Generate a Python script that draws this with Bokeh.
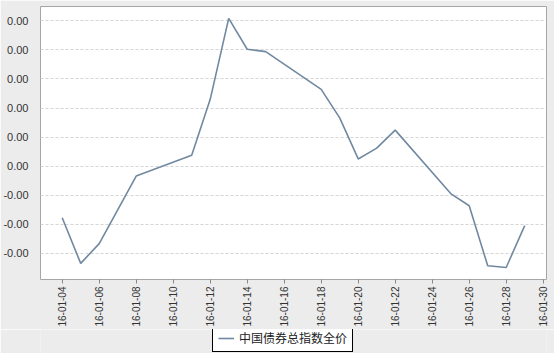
import math
import datetime as dt
from bokeh.plotting import figure
from bokeh.layouts import column
from bokeh.models import (Range1d, FixedTicker, DaysTicker, DatetimeTickFormatter,
                          Legend, LegendItem)
from bokeh.embed import file_html
from bokeh.resources import INLINE

# ---- data ----
dates = ["2016-01-04", "2016-01-05", "2016-01-06", "2016-01-07", "2016-01-08",
         "2016-01-11", "2016-01-12", "2016-01-13", "2016-01-14", "2016-01-15",
         "2016-01-18", "2016-01-19", "2016-01-20", "2016-01-21", "2016-01-22",
         "2016-01-25", "2016-01-26", "2016-01-27", "2016-01-28", "2016-01-29"]
values = [-0.000885, -0.00167, -0.00133, -0.00075, -0.00017,
          0.00019, 0.00115, 0.00254, 0.00201, 0.00197,
          0.00132, 0.00083, 0.000125, 0.00031, 0.00062,
          -0.00047, -0.00068, -0.00171, -0.00174, -0.00102]
series_name = "中国债券总指数全价"
y_ticks = [-0.0015, -0.001, -0.0005, 0.0, 0.0005, 0.001, 0.0015, 0.002, 0.0025]
y_tick_labels = ["-0.00", "-0.00", "-0.00", "0.00", "0.00", "0.00", "0.00", "0.00", "0.00"]
x_tick_days = list(range(4, 31, 2))

LINE_COLOR = "#7189a0"
BG = "#ececec"

xs = [dt.datetime.strptime(d, "%Y-%m-%d") for d in dates]

x_start = dt.datetime(2016, 1, 4) - dt.timedelta(days=1.173)
x_end = dt.datetime(2016, 1, 30) + dt.timedelta(days=0.178)

p = figure(width=554, height=329, x_axis_type="datetime",
           output_backend="svg", toolbar_location=None,
           x_range=Range1d(x_start, x_end),
           y_range=Range1d(-0.001947, 0.002745),
           min_border_left=40, min_border_right=8, min_border_top=6,
           min_border_bottom=49)
p.background_fill_color = "white"
p.border_fill_color = BG
p.outline_line_color = "#a6a6a6"
p.outline_line_width = 1

p.line(xs, values, line_color=LINE_COLOR, line_width=1.6)

# axes
xa = p.xaxis[0]
xa.ticker = DaysTicker(days=x_tick_days)
xa.formatter = DatetimeTickFormatter(days="%y-%m-%d", months="%y-%m-%d")
xa.major_label_orientation = math.pi / 2
xa.major_label_text_font = "Liberation Sans"
xa.major_label_text_font_size = "10px"
xa.major_label_text_color = "#333333"
xa.axis_line_color = None
xa.major_tick_line_color = "#888888"
xa.major_tick_out = 4
xa.major_tick_in = 0
xa.minor_tick_line_color = None
xa.major_label_standoff = 3

ya = p.yaxis[0]
ya.ticker = FixedTicker(ticks=y_ticks)
ya.major_label_overrides = {t: l for t, l in zip(y_ticks, y_tick_labels)}
ya.major_label_text_font = "Liberation Sans"
ya.major_label_text_font_size = "11px"
ya.major_label_text_color = "#333333"
ya.axis_line_color = None
ya.major_tick_line_color = None
ya.minor_tick_line_color = None
ya.major_label_standoff = 6

p.xgrid.grid_line_color = None
p.ygrid.ticker = FixedTicker(ticks=y_ticks)
p.ygrid.grid_line_color = "#d5d5d5"
p.ygrid.grid_line_dash = "3 2"
p.ygrid.grid_line_width = 1

# ---- legend strip below the chart ----
p2 = figure(width=554, height=24, x_axis_type="datetime",
            output_backend="svg", toolbar_location=None,
            x_axis_location=None, y_axis_location=None,
            x_range=Range1d(0, 1), y_range=Range1d(10, 11),
            min_border=0, min_border_left=0, min_border_right=0,
            min_border_top=0, min_border_bottom=0)
p2.grid.visible = False
p2.background_fill_color = BG
p2.border_fill_color = BG
p2.outline_line_color = None
r2 = p2.line(xs, values, line_color=LINE_COLOR, line_width=1.6)

legend = Legend(items=[LegendItem(label=series_name, renderers=[r2])],
                location=(172, 1), margin=0, padding=5, spacing=0,
                glyph_width=16, glyph_height=12, label_standoff=5,
                label_text_font="Noto Sans CJK SC", label_text_font_size="12px",
                label_text_color="#222222", label_height=12,
                border_line_color="black", border_line_width=1.2,
                border_line_alpha=1.0,
                background_fill_color="white", background_fill_alpha=1.0)
p2.add_layout(legend)

layout = column(p, p2, spacing=0)
open("out.html", "w").write(file_html(layout, INLINE))
